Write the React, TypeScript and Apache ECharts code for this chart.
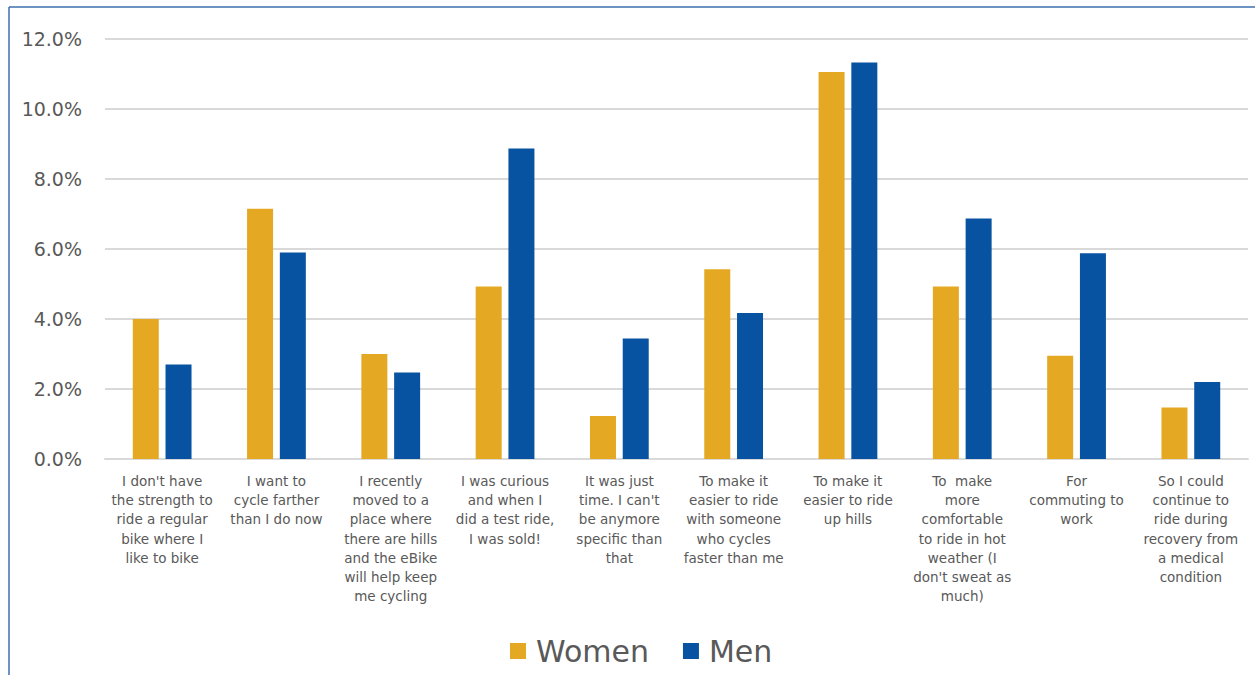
import React, { useEffect, useRef } from "react";
import * as echarts from "echarts";

const categories = [
  "I don't have\nthe strength to\nride a regular\nbike where I\nlike to bike",
  "I want to\ncycle farther\nthan I do now",
  "I recently\nmoved to a\nplace where\nthere are hills\nand the eBike\nwill help keep\nme cycling",
  "I was curious\nand when I\ndid a test ride,\nI was sold!",
  "It was just\ntime. I can't\nbe anymore\nspecific than\nthat",
  "To make it\neasier to ride\nwith someone\nwho cycles\nfaster than me",
  "To make it\neasier to ride\nup hills",
  "To  make\nmore\ncomfortable\nto ride in hot\nweather (I\ndon't sweat as\nmuch)",
  "For\ncommuting to\nwork",
  "So I could\ncontinue to\nride during\nrecovery from\na medical\ncondition",
];
const women = [4.0, 7.15, 3.0, 4.93, 1.23, 5.42, 11.06, 4.93, 2.95, 1.47];
const men = [2.7, 5.9, 2.47, 8.87, 3.44, 4.17, 11.33, 6.87, 5.88, 2.2];
const seriesNames = ["Women", "Men"];
const yTicks = { min: 0, max: 12, interval: 2 };

const FONT = "DejaVu Sans";
const TEXT = "#595959";

export default function App() {
  const ref = useRef<HTMLDivElement>(null);
  useEffect(() => {
    if (!ref.current) return;
    const chart = echarts.init(ref.current, undefined, { renderer: "svg" });
    chart.setOption({
      animation: false,
      backgroundColor: "#ffffff",
      textStyle: { fontFamily: FONT },
      graphic: [
        { type: "line", shape: { x1: 9, y1: 7, x2: 1255, y2: 7 }, style: { stroke: "#3d6fae", lineWidth: 1.5 } },
        { type: "line", shape: { x1: 9, y1: 7, x2: 9, y2: 675 }, style: { stroke: "#3d6fae", lineWidth: 1.5 } },
      ],
      grid: { left: 105, right: 7, top: 39, bottom: 216, containLabel: false },
      legend: {
        data: seriesNames,
        bottom: 4,
        left: 505,
        icon: "rect",
        itemWidth: 16,
        itemHeight: 16,
        itemGap: 34,
        textStyle: { fontSize: 30, color: TEXT, fontFamily: FONT, padding: [0, 0, 0, 5] },
      },
      xAxis: {
        type: "category",
        data: categories,
        axisTick: { show: false },
        axisLine: { lineStyle: { color: "#d9d9d9", width: 2 } },
        axisLabel: {
          interval: 0,
          margin: 12,
          fontSize: 13.5,
          lineHeight: 19.3,
          color: TEXT,
          fontFamily: FONT,
          align: "center",
        },
      },
      yAxis: {
        type: "value",
        min: yTicks.min,
        max: yTicks.max,
        interval: yTicks.interval,
        axisLine: { show: false },
        axisTick: { show: false },
        splitLine: { lineStyle: { color: "#d9d9d9", width: 2 } },
        axisLabel: {
          margin: 23,
          fontSize: 19,
          color: TEXT,
          fontFamily: FONT,
          formatter: (v: number) => v.toFixed(1) + "%",
        },
      },
      series: [
        {
          name: seriesNames[0],
          type: "bar",
          data: women,
          barWidth: 26,
          barGap: "26%",
          itemStyle: { color: "#E5A823" },
        },
        {
          name: seriesNames[1],
          type: "bar",
          data: men,
          barWidth: 26,
          barGap: "26%",
          itemStyle: { color: "#0753A1" },
        },
      ],
    });
    return () => chart.dispose();
  }, []);
  return (
    <div
      ref={ref}
      style={{ position: "absolute", left: 0, top: 0, width: 1255, height: 675 }}
    />
  );
}
